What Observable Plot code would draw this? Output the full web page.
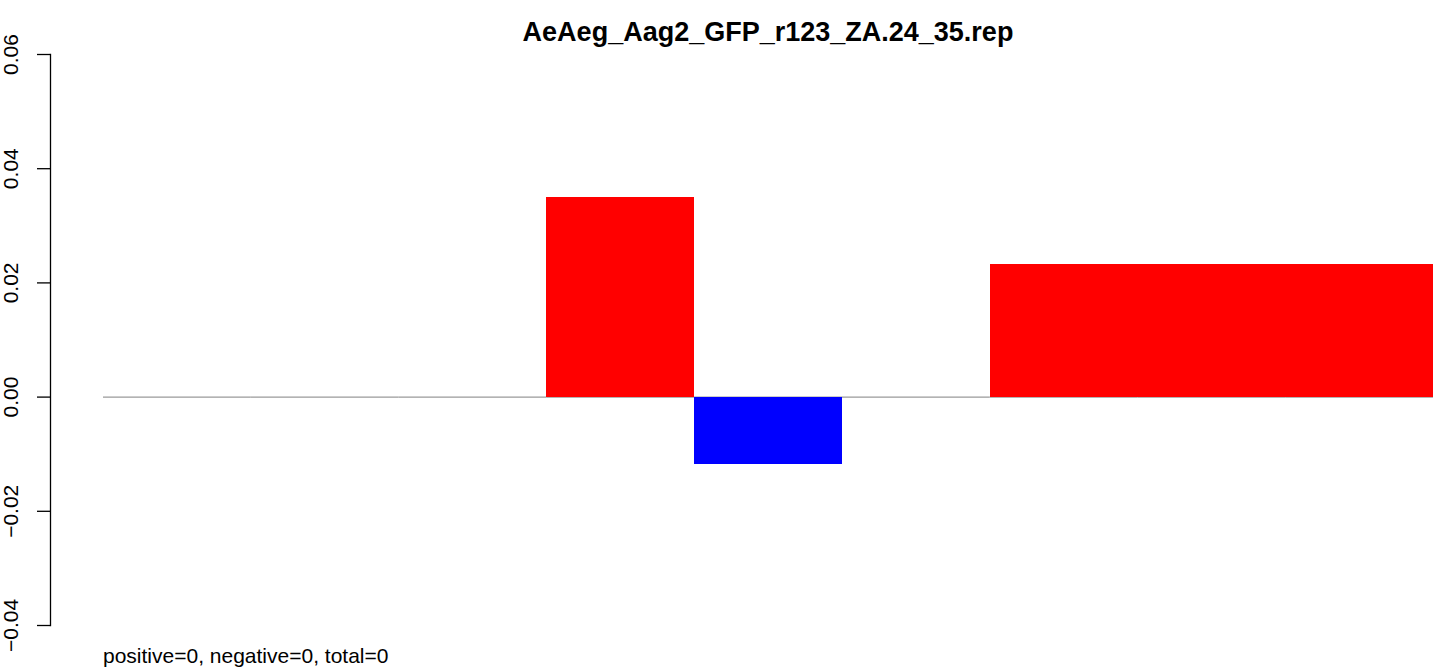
<!DOCTYPE html>
<html><head><meta charset="utf-8">
<script src="https://cdn.jsdelivr.net/npm/d3@7"></script>
<script src="https://cdn.jsdelivr.net/npm/@observablehq/plot@0.6"></script>
<style>
body{margin:0;background:#fff;font-family:"Liberation Sans",Arial,sans-serif;color:#000;}
#wrap{position:relative;width:1447px;height:670px;overflow:hidden;}
#chart{position:absolute;left:0;top:0;}
#title{position:absolute;left:103px;width:1330px;top:19px;text-align:center;font-weight:bold;font-size:27px;line-height:27px;white-space:nowrap;}
#caption{position:absolute;left:103px;top:645px;font-size:21px;line-height:21px;white-space:nowrap;}
</style></head><body>
<div id="wrap"><div id="chart"></div><div id="title"></div><div id="caption"></div></div>
<script>
const title = "AeAeg_Aag2_GFP_r123_ZA.24_35.rep";
const caption = "positive=0, negative=0, total=0";
const bins = ["1","2","3","4","5","6","7","8","9"];
const values = [0, 0, 0, 0.035, -0.0118, 0, 0.0232, 0.0232, 0.0232];
const yTicks = [-0.04, -0.02, 0, 0.02, 0.04, 0.06];

const data = bins.map((b, i) => ({bin: b, value: values[i]}));

document.getElementById("title").textContent = title;
document.getElementById("caption").textContent = caption;

const chart = Plot.plot({
  width: 1447,
  height: 670,
  marginTop: 54,
  marginBottom: 45,
  marginLeft: 50,
  marginRight: 14,
  style: {fontFamily: "Liberation Sans, Arial, sans-serif", background: "#fff", color: "#000"},
  x: {domain: bins, range: [103, 1433], padding: 0, round: false, axis: null},
  y: {domain: [yTicks[0], yTicks[yTicks.length - 1]]},
  marks: [
    Plot.tickY(data, {x: "bin", y: 0, stroke: "#808080", strokeWidth: 1}),
    Plot.barY(data.filter(d => d.value !== 0), {
      x: "bin", y: "value",
      fill: d => d.value > 0 ? "#FF0000" : "#0000FF",
      shapeRendering: "crispEdges",
      inset: 0
    }),
    Plot.frame({anchor: "left", stroke: "#000", strokeWidth: 1.3}),
    Plot.axisY({
      ticks: yTicks,
      tickSize: 13,
      tickPadding: 20,
      tickRotate: -90,
      fontSize: 21,
      strokeWidth: 1.3,
      label: null,
      tickFormat: d => d.toFixed(2).replace("-", "\u2212")
    })
  ]
});
document.getElementById("chart").appendChild(chart);
</script>
</body></html>
